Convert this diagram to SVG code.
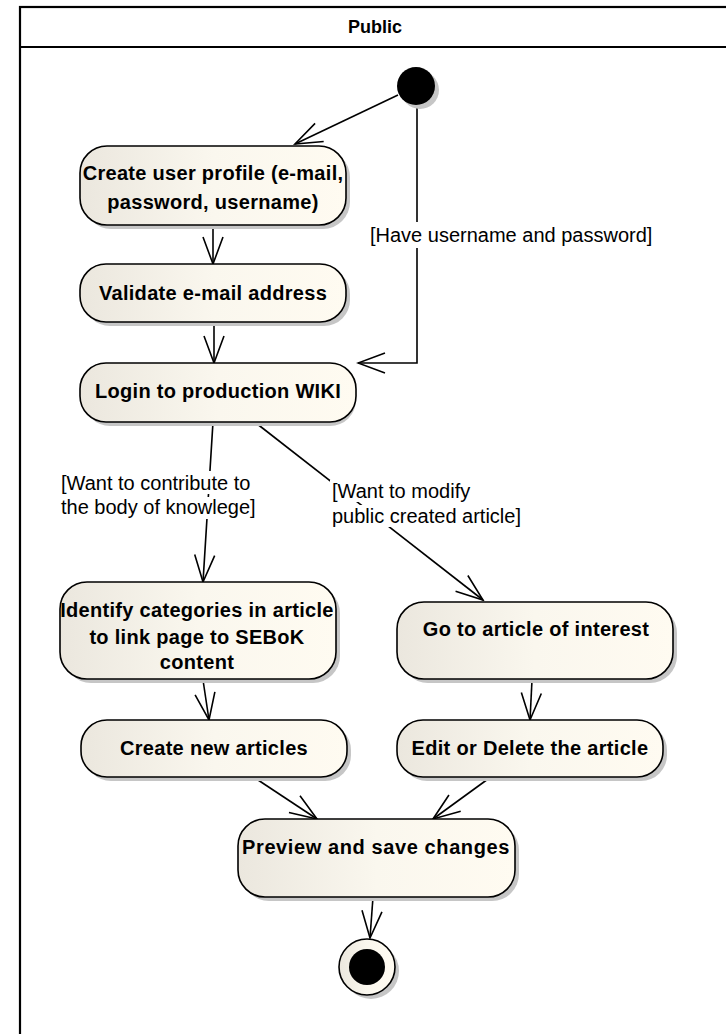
<svg xmlns="http://www.w3.org/2000/svg" width="726" height="1034" viewBox="0 0 726 1034">
<style>
.node{stroke:#000;stroke-width:1.6;fill:url(#g)}
.shadow{fill:#c6c6c6;stroke:none}
.nt{font-family:"Liberation Sans",Arial,sans-serif;font-weight:bold;font-size:20px;letter-spacing:0.3px;fill:#000;text-anchor:middle}
.lt{font-family:"Liberation Sans",Arial,sans-serif;font-size:20px;fill:#000}
.bg{fill:#fff;stroke:none}
.c{fill:none;stroke:#000;stroke-width:1.6;marker-end:url(#a)}
</style>
<defs>
<linearGradient id="g" x1="0" y1="0" x2="1" y2="0">
<stop offset="0" stop-color="#ebe7de"/>
<stop offset="0.5" stop-color="#faf7ee"/>
<stop offset="1" stop-color="#fffbf1"/>
</linearGradient>
<marker id="a" markerUnits="userSpaceOnUse" viewBox="-30 -13 32 26" markerWidth="32" markerHeight="26" refX="0" refY="0" orient="auto">
<path d="M-27,-10 L0,0 L-27,10" fill="none" stroke="#000" stroke-width="1.6"/>
</marker>
</defs>
<rect x="0" y="0" width="726" height="1034" fill="#fff"/>
<g id="frame">
<rect x="20" y="7" width="740" height="1060" fill="#fff" stroke="#000" stroke-width="2.2"/>
<line x1="20" y1="47" x2="726" y2="47" stroke="#000" stroke-width="2.2"/>
<text x="375" y="33" class="nt" style="font-size:18px;letter-spacing:0">Public</text>
</g>
<g id="connectors">
<path class="c" d="M398,95 L295,144"/>
<path class="c" d="M213,225 L213,264"/>
<path class="c" d="M214,322 L214,363"/>
<path class="c" d="M417,105 L417,363 L358,363"/>
<path class="c" d="M213,422 L203,582"/>
<path class="c" d="M256,423 L483,600"/>
<path class="c" d="M203,680 L209,720"/>
<path class="c" d="M532,680 L530,720"/>
<path class="c" d="M255,778 L317,819"/>
<path class="c" d="M488,779 L433,819"/>
<path class="c" d="M373,897 L370,938"/>
</g>
<g id="label-have">
<rect class="bg" x="368" y="222" width="290" height="26"/>
<text class="lt" x="370" y="242">[Have username and password]</text>
</g>
<g id="label-contribute">
<rect class="bg" x="58" y="471" width="208" height="23"/>
<rect class="bg" x="58" y="497" width="210" height="22"/>
<text class="lt" x="61" y="490">[Want to contribute to</text>
<text class="lt" x="61" y="514">the body of knowlege]</text>
</g>
<g id="label-modify">
<rect class="bg" x="330" y="480" width="145" height="22"/>
<rect class="bg" x="330" y="505" width="196" height="22"/>
<text class="lt" x="332" y="498">[Want to modify</text>
<text class="lt" x="332" y="523">public created article]</text>
</g>
<g id="initial">
<circle class="shadow" cx="420" cy="90" r="19"/>
<circle cx="416" cy="86" r="19" fill="#000"/>
</g>
<g id="create-profile">
<rect class="shadow" x="84" y="150" width="266" height="79" rx="27"/>
<rect class="node" x="80" y="146" width="266" height="79" rx="27"/>
<text class="nt" x="213" y="180">Create user profile (e-mail,</text>
<text class="nt" x="213" y="209">password, username)</text>
</g>
<g id="validate">
<rect class="shadow" x="84" y="268" width="266" height="58" rx="26"/>
<rect class="node" x="80" y="264" width="266" height="58" rx="26"/>
<text class="nt" x="213" y="300">Validate e-mail address</text>
</g>
<g id="login">
<rect class="shadow" x="84" y="367" width="272" height="59" rx="26"/>
<rect class="node" x="80" y="363" width="276" height="59" rx="26"/>
<text class="nt" x="218" y="398">Login to production WIKI</text>
</g>
<g id="identify">
<rect class="shadow" x="64" y="586" width="276" height="97" rx="27"/>
<rect class="node" x="60" y="582" width="276" height="97" rx="27"/>
<text class="nt" x="197" y="617">Identify categories in article</text>
<text class="nt" x="197" y="644">to link page to SEBoK</text>
<text class="nt" x="197" y="669">content</text>
</g>
<g id="goto">
<rect class="shadow" x="401" y="606" width="276" height="77" rx="27"/>
<rect class="node" x="397" y="602" width="276" height="77" rx="27"/>
<text class="nt" x="536" y="636">Go to article of interest</text>
</g>
<g id="create-new">
<rect class="shadow" x="85" y="724" width="266" height="57" rx="26"/>
<rect class="node" x="81" y="720" width="266" height="57" rx="26"/>
<text class="nt" x="214" y="755">Create new articles</text>
</g>
<g id="edit">
<rect class="shadow" x="401" y="724" width="266" height="57" rx="26"/>
<rect class="node" x="397" y="720" width="266" height="57" rx="26"/>
<text class="nt" x="530" y="755">Edit or Delete the article</text>
</g>
<g id="preview">
<rect class="shadow" x="242" y="823" width="277" height="78" rx="27"/>
<rect class="node" x="238" y="819" width="277" height="78" rx="27"/>
<text class="nt" x="376" y="854" style="letter-spacing:0.6px">Preview and save changes</text>
</g>
<g id="final">
<circle class="shadow" cx="371" cy="971" r="28"/>
<circle class="node" cx="367" cy="967" r="28"/>
<circle cx="367" cy="967" r="18" fill="#000"/>
</g>
</svg>
